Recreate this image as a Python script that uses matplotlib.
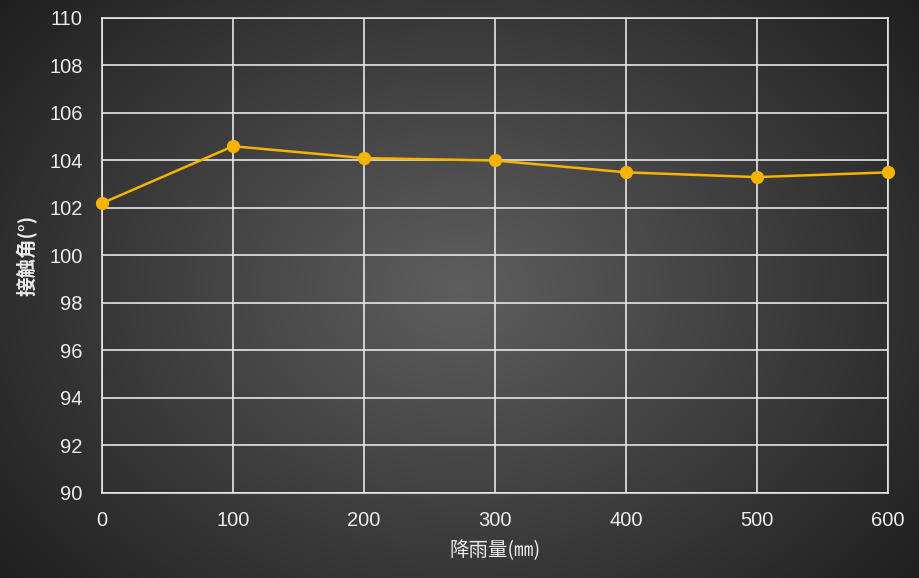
import numpy as np
import matplotlib
matplotlib.use("Agg")
import matplotlib.pyplot as plt

plt.rcParams['font.family'] = ['Noto Sans CJK SC', 'DejaVu Sans']

rainfall = [0, 100, 200, 300, 400, 500, 600]
contact_angle = [102.2, 104.6, 104.1, 104.0, 103.5, 103.3, 103.5]
y_ticks = [90, 92, 94, 96, 98, 100, 102, 104, 106, 108, 110]
x_label = "降雨量(㎜)"
y_label = "接触角(°)"

fig = plt.figure(figsize=(9.2, 5.78), dpi=100)

# radial gradient background
bg = fig.add_axes([0, 0, 1, 1], zorder=-10)
h, w = 578, 920
yy, xx = np.mgrid[0:h, 0:w]
r = np.sqrt(((xx - w * 0.5) / (w * 0.65)) ** 2 + ((yy - h * 0.5) / (h * 0.8)) ** 2)
v = np.clip(0.37 - 0.25 * r, 0.10, 0.40)
bg.imshow(np.dstack([v, v, v]), aspect="auto", extent=[0, 1, 0, 1])
bg.axis("off")

ax = fig.add_axes([0.1109, 0.1471, 0.8543, 0.8218])
ax.set_facecolor("none")
ax.plot(rainfall, contact_angle, color="#F5B400", linewidth=1.8,
        marker="o", markersize=8.5, clip_on=False, zorder=5)

ax.set_xlim(0, 600)
ax.set_ylim(90, 110)
ax.set_xticks(rainfall)
ax.set_yticks(y_ticks)
ax.grid(True, color="#e6e6e6", linewidth=1.2)
for s in ax.spines.values():
    s.set_color("#e6e6e6")
    s.set_linewidth(1.2)
ax.tick_params(colors="#ececec", labelsize=14.5, length=0)
ax.tick_params(axis="x", pad=13)
ax.tick_params(axis="y", pad=14)
for lab in ax.get_xticklabels() + ax.get_yticklabels():
    lab.set_fontfamily(["Liberation Sans", "DejaVu Sans"])
ax.set_xlabel(x_label, color="#ececec", fontsize=14, labelpad=7)
ax.set_ylabel(y_label, color="#ececec", fontsize=14, fontweight="bold", labelpad=8)

fig.savefig("out.png", dpi=100)
